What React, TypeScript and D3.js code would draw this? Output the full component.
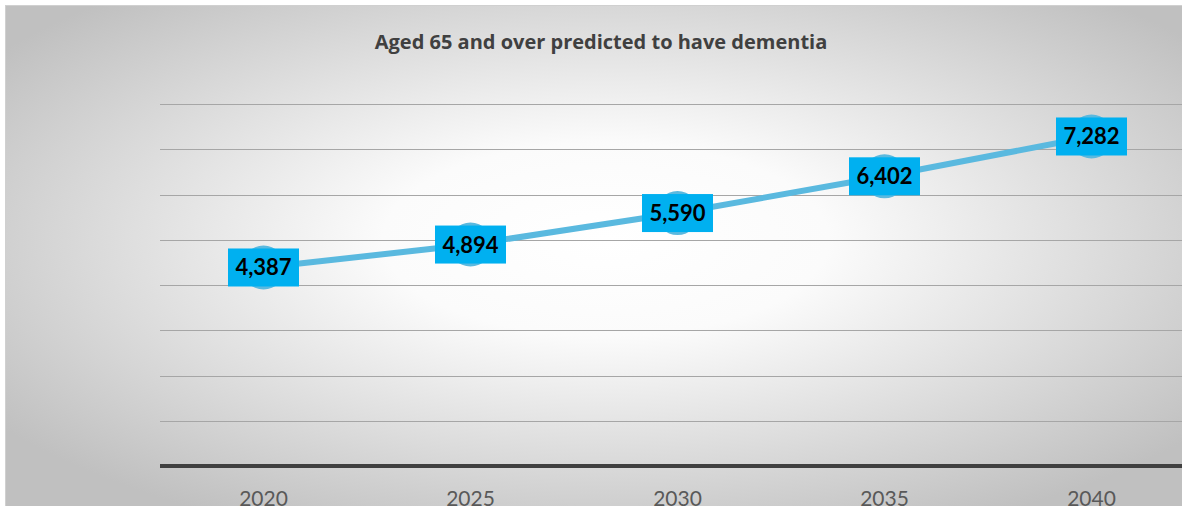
import React from "react";
import * as d3 from "d3";

const years = ["2020", "2025", "2030", "2035", "2040"];
const values = [4387, 4894, 5590, 6402, 7282];
const yTicks = [0, 1000, 2000, 3000, 4000, 5000, 6000, 7000, 8000];
const title = "Aged 65 and over predicted to have dementia";

export default function App() {
  const W = 1182, H = 506;
  const x = d3.scaleBand().domain(years).range([160, 1195]);
  const y = d3.scaleLinear().domain([0, 8000]).range([466, 104]);
  const cx = (c: string) => (x(c) as number) + x.bandwidth() / 2;
  const line = d3.line<number>().x((_, i) => cx(years[i])).y((v) => y(v));
  const fmt = d3.format(",");
  const font = "Lato, 'Open Sans', sans-serif";
  return (
    <div style={{ position: "absolute", left: 0, top: 0, width: W, height: H, overflow: "hidden", background: "#fff" }}>
      <svg width={W} height={H} style={{ display: "block" }}>
        <defs>
          <radialGradient id="bg" cx="0.5" cy="0.45" r="0.62">
            <stop offset="0" stopColor="#ffffff" />
            <stop offset="0.3" stopColor="#fbfbfb" />
            <stop offset="1" stopColor="#c0c0c0" />
          </radialGradient>
        </defs>
        <rect x={5.5} y={5.5} width={1200} height={520} fill="url(#bg)" stroke="#d0d0d0" strokeWidth={1} />
        <text x={601} y={49} textAnchor="middle" fontFamily="'Open Sans', sans-serif" fontWeight="bold" fontSize={20} fill="#404040">
          {title}
        </text>
        {yTicks.slice(1).map((t) => (
          <line key={t} x1={160} x2={1195} y1={Math.round(y(t)) + 0.5} y2={Math.round(y(t)) + 0.5} stroke="#a6a6a6" strokeWidth={1} />
        ))}
        <line x1={160} x2={1195} y1={y(0)} y2={y(0)} stroke="#404040" strokeWidth={4} />
        {years.map((c) => (
          <text key={c} x={cx(c)} y={506} textAnchor="middle" fontFamily={font} fontSize={21} fill="#595959">
            {c}
          </text>
        ))}
        <path d={line(values) || ""} fill="none" stroke="#5ab9df" strokeWidth={6} />
        {values.map((v, i) => (
          <circle key={i} cx={cx(years[i])} cy={y(v)} r={22} fill="#5ab9df" />
        ))}
        {values.map((v, i) => (
          <g key={"l" + i} transform={`translate(${cx(years[i])},${y(v)})`}>
            <rect x={-35.5} y={-19} width={71} height={38} fill="#00b0f0" />
            <text x={0} y={8} textAnchor="middle" fontFamily={font} fontWeight="bold" fontSize={22} fill="#000">
              {fmt(v)}
            </text>
          </g>
        ))}
      </svg>
    </div>
  );
}
